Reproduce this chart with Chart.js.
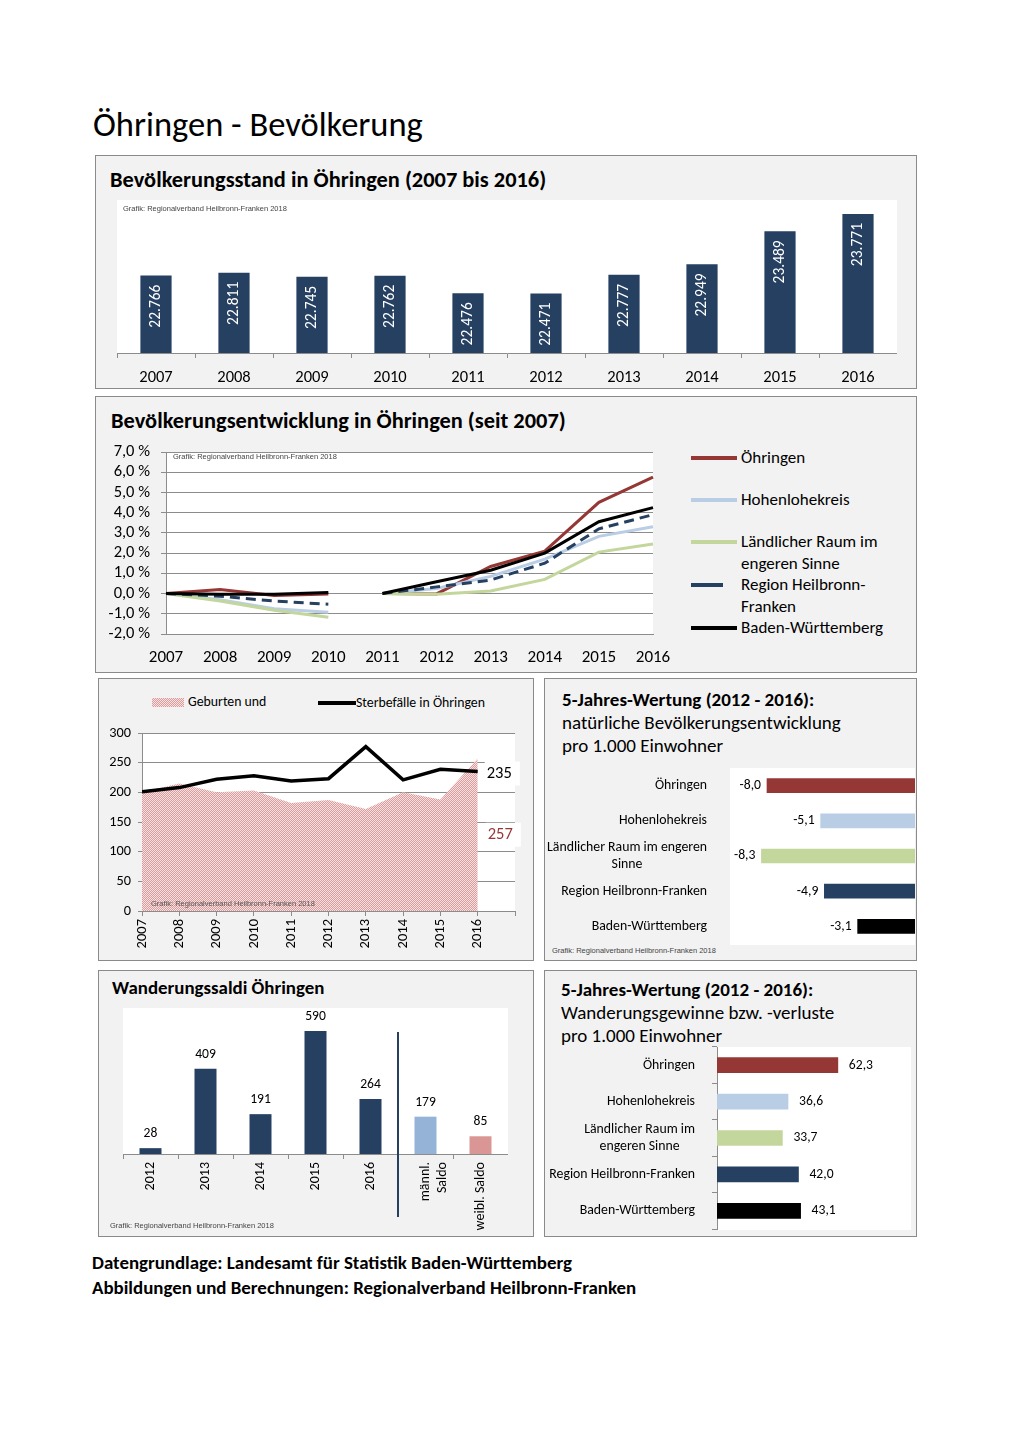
<!DOCTYPE html>
<html lang="de">
<head>
<meta charset="utf-8">
<title>Öhringen - Bevölkerung</title>
<script src="https://cdn.jsdelivr.net/npm/chart.js@4.4.1/dist/chart.umd.min.js"></script>
<style>
  body { margin: 0; background: #fff; font-family: Carlito, Lato, sans-serif; color: #000; }
  #page { position: relative; width: 1020px; height: 1443px; overflow: hidden; }
  .panel { position: absolute; background: #f2f2f2; border: 1px solid #8a8a8a; box-sizing: border-box; }
  .t { position: absolute; white-space: nowrap; }
  .b { font-weight: bold; }
  .note { position: absolute; white-space: nowrap; font-family: "Liberation Sans", Arial, sans-serif; font-size: 7.5px; color: #444; }
  canvas { position: absolute; }
  .sw { position: absolute; height: 3px; }
</style>
</head>
<body>
<div id="page">
  <div class="t" style="left:93px;top:104px;font-size:34.5px;line-height:40px;">Öhringen - Bevölkerung</div>

  <!-- Bevölkerungsstand -->
  <div class="panel" style="left:95px;top:155px;width:822px;height:234px;"></div>
  <div class="t b" style="left:110px;top:167px;font-size:22.4px;line-height:26px;">Bevölkerungsstand in Öhringen (2007 bis 2016)</div>
  <canvas id="popChart" width="780" height="186" style="left:117px;top:200px;"></canvas>
  <div class="note" style="left:123px;top:204px;">Grafik: Regionalverband Heilbronn-Franken 2018</div>

  <!-- Bevölkerungsentwicklung -->
  <div class="panel" style="left:95px;top:396px;width:822px;height:277px;"></div>
  <div class="t b" style="left:111px;top:408px;font-size:22.4px;line-height:26px;">Bevölkerungsentwicklung in Öhringen (seit 2007)</div>
  <canvas id="devChart" width="573" height="232" style="left:100px;top:440px;"></canvas>
  <div class="note" style="left:173px;top:452px;">Grafik: Regionalverband Heilbronn-Franken 2018</div>
  <div id="devLegend"></div>

  <!-- Geburten und Sterbefälle -->
  <div class="panel" style="left:98px;top:678px;width:436px;height:283px;"></div>
  <div class="sw" style="left:152px;top:698px;width:32px;height:9px;background:repeating-conic-gradient(#dc9c9c 0 25%, #f6e2e2 0 50%) 0 0/2px 2px;"></div>
  <div class="t" style="left:188px;top:693px;font-size:13.8px;line-height:17px;">Geburten und</div>
  <div class="sw" style="left:318px;top:701px;width:38px;height:4px;background:#000;"></div>
  <div class="t" style="left:356px;top:694px;font-size:13.8px;line-height:17px;">Sterbefälle in Öhringen</div>
  <canvas id="natChart" width="430" height="232" style="left:100px;top:725px;"></canvas>
  <div class="note" style="left:151px;top:899px;color:#555;">Grafik: Regionalverband Heilbronn-Franken 2018</div>

  <!-- 5-Jahres-Wertung natürlich -->
  <div class="panel" style="left:544px;top:678px;width:373px;height:283px;"></div>
  <div class="t" style="left:562px;top:688px;font-size:19px;line-height:23px;"><b>5-Jahres-Wertung (2012 - 2016):</b><br>natürliche Bevölkerungsentwicklung<br>pro 1.000 Einwohner</div>
  <canvas id="naturalChart" width="369" height="180" style="left:546px;top:766px;"></canvas>
  <div class="note" style="left:552px;top:946px;">Grafik: Regionalverband Heilbronn-Franken 2018</div>

  <!-- Wanderungssaldi -->
  <div class="panel" style="left:98px;top:970px;width:436px;height:267px;"></div>
  <div class="t b" style="left:112px;top:976px;font-size:18.9px;line-height:23px;">Wanderungssaldi Öhringen</div>
  <canvas id="migChart" width="385" height="225" style="left:123px;top:1008px;"></canvas>
  <div class="note" style="left:110px;top:1221px;">Grafik: Regionalverband Heilbronn-Franken 2018</div>

  <!-- 5-Jahres-Wertung Wanderung -->
  <div class="panel" style="left:544px;top:970px;width:373px;height:267px;"></div>
  <div class="t" style="left:561px;top:978px;font-size:19px;line-height:23px;"><b>5-Jahres-Wertung (2012 - 2016):</b><br>Wanderungsgewinne bzw. -verluste<br>pro 1.000 Einwohner</div>
  <canvas id="migRateChart" width="367" height="186" style="left:546px;top:1045px;"></canvas>

  <div class="t b" style="left:92px;top:1250px;font-size:18.9px;line-height:25px;">Datengrundlage: Landesamt für Statistik Baden-Württemberg<br>Abbildungen und Berechnungen: Regionalverband Heilbronn-Franken</div>
</div>

<script>
const FONT = "Carlito, Lato, sans-serif";
const NAVY = "#254061";
const DARK_RED = "#953735";
const LIGHT_BLUE = "#b9cde5";
const LIGHT_GREEN = "#c3d69b";
const GRID = "#8c8c8c";

// Bevölkerungsstand
const popYears = ["2007", "2008", "2009", "2010", "2011", "2012", "2013", "2014", "2015", "2016"];
const popValues = [22766, 22811, 22745, 22762, 22476, 22471, 22777, 22949, 23489, 23771];

// Bevölkerungsentwicklung in % (2007-2010 auf 2007, 2011-2016 auf 2011 bezogen)
const devYears = ["2007", "2008", "2009", "2010", "2011", "2012", "2013", "2014", "2015", "2016"];
const devOehringen = [0, 0.2, -0.09, -0.02, 0, -0.02, 1.34, 2.1, 4.51, 5.76];
const devHohenlohe = [0, -0.3, -0.75, -0.92, 0, 0.25, 0.85, 1.7, 2.83, 3.3];
const devLaendlich = [0, -0.37, -0.83, -1.17, 0, -0.03, 0.13, 0.7, 2.05, 2.45];
const devRegion = [0, -0.13, -0.37, -0.53, 0, 0.33, 0.67, 1.5, 3.2, 3.9];
const devBW = [0, -0.03, -0.03, 0.05, 0, 0.58, 1.15, 2.0, 3.55, 4.25];
const devTicks = [-2, -1, 0, 1, 2, 3, 4, 5, 6, 7];

// Geburten und Sterbefälle
const natYears = [2007, 2008, 2009, 2010, 2011, 2012, 2013, 2014, 2015, 2016];
const births = [200, 215, 200, 203, 182, 187, 172, 200, 188, 257];
const deaths = [201, 208, 222, 228, 219, 223, 277, 221, 239, 235];

// 5-Jahres-Wertung pro 1.000 Einwohner
const naturalAreas = ["Öhringen", "Hohenlohekreis", ["Ländlicher Raum im engeren", "Sinne"], "Region Heilbronn-Franken", "Baden-Württemberg"];
const naturalPer1000 = [-8.0, -5.1, -8.3, -4.9, -3.1];
const migrationAreas = ["Öhringen", "Hohenlohekreis", ["Ländlicher Raum im", "engeren Sinne"], "Region Heilbronn-Franken", "Baden-Württemberg"];
const migrationPer1000 = [62.3, 36.6, 33.7, 42.0, 43.1];
const areaColors = [DARK_RED, LIGHT_BLUE, LIGHT_GREEN, NAVY, "#000000"];

// Wanderungssaldi
const migLabels = ["2012", "2013", "2014", "2015", "2016", ["männl.", "Saldo"], "weibl. Saldo"];
const migSaldo = [28, 409, 191, 590, 264, 179, 85];
const migColors = [NAVY, NAVY, NAVY, NAVY, NAVY, "#95b3d7", "#d99694"];

Chart.defaults.font.family = FONT;
Chart.defaults.color = "#000";
Chart.defaults.animation = false;
Chart.defaults.plugins.legend.display = false;
Chart.defaults.plugins.tooltip.enabled = false;

function fmtThousand(v) {
  return String(v).replace(/\B(?=(\d{3})+(?!\d))/g, ".");
}

function fmtComma(v, d) {
  return v.toFixed(d).replace(".", ",");
}

// fixed axis size, no extra padding from the tick labels
function fixSize(w, h) {
  return (s) => {
    if (w !== null) s.width = w;
    if (h !== null) s.height = h;
    s.paddingTop = 0;
    s.paddingBottom = 0;
    s.paddingLeft = 0;
    s.paddingRight = 0;
  };
}

const whiteArea = {
  id: "whiteArea",
  beforeDraw(chart) {
    const a = chart.chartArea;
    chart.ctx.save();
    chart.ctx.fillStyle = "#fff";
    chart.ctx.fillRect(a.left, a.top, a.width, a.height + 1);
    chart.ctx.restore();
  },
};

// category labels like Excel: block right aligned, lines centred on each other
const centeredLabels = {
  id: "centeredLabels",
  afterDraw(chart, args, opts) {
    const ys = chart.scales.y;
    const ctx = chart.ctx;
    ctx.save();
    ctx.font = opts.size + "px " + FONT;
    ctx.fillStyle = "#000";
    ctx.textAlign = "center";
    ctx.textBaseline = "middle";
    chart.data.labels.forEach((label, i) => {
      const lines = [].concat(label);
      const w = Math.max(...lines.map((l) => ctx.measureText(l).width));
      const cx = opts.right - w / 2;
      const y0 = ys.getPixelForTick(i) - ((lines.length - 1) * opts.lineHeight) / 2;
      lines.forEach((l, k) => ctx.fillText(l, cx, y0 + k * opts.lineHeight));
    });
    ctx.restore();
  },
};

function valueLabels(id, draw) {
  return {
    id: id,
    afterDatasetsDraw(chart) {
      const ctx = chart.ctx;
      const values = chart.data.datasets[0].data;
      ctx.save();
      chart.getDatasetMeta(0).data.forEach((bar, i) => draw(ctx, bar, values[i], i));
      ctx.restore();
    },
  };
}

function makeHatch() {
  const c = document.createElement("canvas");
  c.width = 4;
  c.height = 4;
  const g = c.getContext("2d");
  g.fillStyle = "#f6e2e2";
  g.fillRect(0, 0, 4, 4);
  g.fillStyle = "#dc9c9c";
  for (let y = 0; y < 4; y++) {
    for (let x = 0; x < 4; x++) {
      if ((x + y) % 2 === 0) g.fillRect(x, y, 1, 1);
    }
  }
  return g.createPattern(c, "repeat");
} //makeHatch

function buildLegend() {
  const items = [
    { text: "Öhringen", color: DARK_RED, top: 458, w: 46 },
    { text: "Hohenlohekreis", color: LIGHT_BLUE, top: 500, w: 46 },
    { text: "Ländlicher Raum im<br>engeren Sinne", color: LIGHT_GREEN, top: 542, w: 46 },
    { text: "Region Heilbronn-<br>Franken", color: NAVY, top: 585, w: 32 },
    { text: "Baden-Württemberg", color: "#000", top: 628, w: 46 },
  ];
  let html = "";
  items.forEach((it) => {
    html += `<div class="sw" style="left:691px;top:${it.top - 2}px;width:${it.w}px;height:3.5px;background:${it.color};"></div>`;
    html += `<div class="t" style="left:741px;top:${it.top - 11}px;font-size:17px;line-height:21.5px;">${it.text}</div>`;
  });
  document.getElementById("devLegend").innerHTML = html;
} //buildLegend

function loadPopChart() {
  new Chart(document.getElementById("popChart"), {
    type: "bar",
    data: {
      labels: popYears,
      datasets: [{ data: popValues, backgroundColor: NAVY, barPercentage: 0.4, categoryPercentage: 1 }],
    },
    options: {
      responsive: false,
      layout: { padding: 0 },
      scales: {
        x: {
          grid: { drawOnChartArea: false, tickLength: 5, color: GRID },
          border: { color: GRID },
          ticks: { font: { size: 16.5 }, padding: 10 },
          afterFit: fixSize(null, 33),
        },
        y: { display: false, min: 21500, max: 24000 },
      },
    },
    plugins: [
      whiteArea,
      valueLabels("popLabels", (ctx, bar, v) => {
        ctx.translate(bar.x, bar.y + 9);
        ctx.rotate(-Math.PI / 2);
        ctx.fillStyle = "#fff";
        ctx.font = "15.5px " + FONT;
        ctx.textAlign = "right";
        ctx.textBaseline = "middle";
        ctx.fillText(fmtThousand(v), 0, 0);
        ctx.setTransform(1, 0, 0, 1, 0, 0);
      }),
    ],
  });
} //loadPopChart

function devLine(data, color, order, dash) {
  return {
    data: data,
    borderColor: color,
    borderWidth: 3,
    borderDash: dash || [],
    pointRadius: 0,
    order: order,
    segment: {
      borderColor: (c) => (c.p0DataIndex === 3 ? "rgba(0,0,0,0)" : undefined),
    },
  };
}

function loadDevChart() {
  new Chart(document.getElementById("devChart"), {
    type: "line",
    data: {
      labels: devYears,
      datasets: [
        devLine(devOehringen, DARK_RED, 5),
        devLine(devHohenlohe, LIGHT_BLUE, 4),
        devLine(devLaendlich, LIGHT_GREEN, 3),
        devLine(devRegion, NAVY, 2, [10, 6]),
        devLine(devBW, "#000", 1),
      ],
    },
    options: {
      responsive: false,
      layout: { padding: { top: 12, right: 20, left: 0, bottom: 0 } },
      scales: {
        x: {
          grid: { display: false },
          border: { color: GRID },
          ticks: { font: { size: 17 }, padding: 6, maxRotation: 0 },
          afterFit: fixSize(null, 38),
        },
        y: {
          min: devTicks[0],
          max: devTicks[devTicks.length - 1],
          grid: { color: GRID, tickLength: 5 },
          border: { color: GRID },
          afterBuildTicks: (s) => { s.ticks = devTicks.map((v) => ({ value: v })); },
          ticks: { font: { size: 16.5 }, padding: 11, autoSkip: false, callback: (v) => fmtComma(v, 1) + " %" },
          afterFit: fixSize(66, null),
        },
      },
    },
    plugins: [whiteArea],
  });
} //loadDevChart

function loadNatChart() {
  const natLabels = {
    id: "natLabels",
    afterDatasetsDraw(chart) {
      const ctx = chart.ctx;
      const ys = chart.scales.y;
      const last = natYears.length - 1;
      const dPt = chart.getDatasetMeta(0).data[last];
      const bPt = chart.getDatasetMeta(1).data[last];
      ctx.save();
      ctx.font = "16.5px " + FONT;
      ctx.textAlign = "left";
      ctx.textBaseline = "middle";
      const items = [
        { text: String(deaths[last]), x: dPt.x + 9, y: dPt.y + 2, color: "#000" },
        { text: String(births[last]), x: bPt.x + 10, y: ys.getPixelForValue(births[last] / 2), color: DARK_RED },
      ];
      items.forEach((it) => {
        const w = ctx.measureText(it.text).width;
        ctx.fillStyle = "#fff";
        ctx.fillRect(it.x - 2, it.y - 12, w + 10, 24);
        ctx.fillStyle = it.color;
        ctx.fillText(it.text, it.x, it.y);
      });
      ctx.restore();
    },
  };
  new Chart(document.getElementById("natChart"), {
    type: "line",
    data: {
      datasets: [
        {
          label: "Sterbefälle",
          data: natYears.map((y, i) => ({ x: y, y: deaths[i] })),
          borderColor: "#000",
          borderWidth: 3.5,
          pointRadius: 0,
          order: 1,
        },
        {
          label: "Geburten",
          data: natYears.map((y, i) => ({ x: y, y: births[i] })),
          borderWidth: 0,
          backgroundColor: makeHatch(),
          fill: "origin",
          pointRadius: 0,
          order: 2,
        },
      ],
    },
    options: {
      responsive: false,
      layout: { padding: { top: 8, right: 15, left: 0, bottom: 0 } },
      scales: {
        x: {
          type: "linear",
          min: 2007,
          max: 2017,
          grid: { drawOnChartArea: false, tickLength: 5, color: GRID },
          border: { color: GRID },
          ticks: {
            stepSize: 1,
            font: { size: 14.5 },
            padding: 3,
            minRotation: 90,
            maxRotation: 90,
            callback: (v) => (v === 2017 ? "" : String(v)),
          },
          afterFit: fixSize(null, 46),
        },
        y: {
          min: 0,
          max: 300,
          grid: { color: GRID, tickLength: 4 },
          border: { color: GRID },
          ticks: { stepSize: 50, font: { size: 14.3 }, padding: 7 },
          afterFit: fixSize(42, null),
        },
      },
    },
    plugins: [whiteArea, natLabels],
  });
} //loadNatChart

function loadNaturalChart() {
  new Chart(document.getElementById("naturalChart"), {
    type: "bar",
    data: {
      labels: naturalAreas,
      datasets: [{ data: naturalPer1000, backgroundColor: areaColors, barThickness: 14 }],
    },
    options: {
      responsive: false,
      indexAxis: "y",
      layout: { padding: { top: 2, bottom: 2, left: 0, right: 0 } },
      plugins: { centeredLabels: { size: 13.8, right: 161, lineHeight: 16.5 } },
      scales: {
        x: { display: false, min: -10, max: 0 },
        y: {
          grid: { display: false },
          border: { display: false },
          ticks: { display: false },
          afterFit: fixSize(184, null),
        },
      },
    },
    plugins: [
      whiteArea,
      centeredLabels,
      valueLabels("naturalLabels", (ctx, bar, v) => {
        ctx.fillStyle = "#000";
        ctx.font = "13.7px " + FONT;
        ctx.textAlign = "right";
        ctx.textBaseline = "middle";
        ctx.fillText(fmtComma(v, 1), bar.x - 6, bar.y);
      }),
    ],
  });
} //loadNaturalChart

function loadMigChart() {
  const separator = {
    id: "separator",
    afterDraw(chart) {
      const xs = chart.scales.x;
      const a = chart.chartArea;
      const x = (xs.getPixelForValue(4) + xs.getPixelForValue(5)) / 2;
      const ctx = chart.ctx;
      ctx.save();
      ctx.strokeStyle = NAVY;
      ctx.lineWidth = 2;
      ctx.beginPath();
      ctx.moveTo(x, a.top + 24);
      ctx.lineTo(x, a.bottom + 63);
      ctx.stroke();
      ctx.restore();
    },
  };
  new Chart(document.getElementById("migChart"), {
    type: "bar",
    data: {
      labels: migLabels,
      datasets: [{ data: migSaldo, backgroundColor: migColors, barPercentage: 0.4, categoryPercentage: 1 }],
    },
    options: {
      responsive: false,
      layout: { padding: 0 },
      scales: {
        x: {
          grid: { drawOnChartArea: false, tickLength: 5, color: GRID },
          border: { color: GRID },
          ticks: { font: { size: 14 }, padding: 3, minRotation: 90, maxRotation: 90, autoSkip: false },
          afterFit: fixSize(null, 79),
        },
        y: { display: false, min: 0, max: 700 },
      },
    },
    plugins: [
      whiteArea,
      separator,
      valueLabels("migLabels", (ctx, bar, v) => {
        ctx.fillStyle = "#000";
        ctx.font = "13.6px " + FONT;
        ctx.textAlign = "center";
        ctx.textBaseline = "alphabetic";
        ctx.fillText(String(v), bar.x, bar.y - 11);
      }),
    ],
  });
} //loadMigChart

function loadMigRateChart() {
  new Chart(document.getElementById("migRateChart"), {
    type: "bar",
    data: {
      labels: migrationAreas,
      datasets: [{ data: migrationPer1000, backgroundColor: areaColors, barThickness: 15 }],
    },
    options: {
      responsive: false,
      indexAxis: "y",
      layout: { padding: { top: 2, bottom: 2, left: 0, right: 2 } },
      plugins: { centeredLabels: { size: 13.8, right: 149, lineHeight: 16.5 } },
      scales: {
        x: { display: false, min: 0, max: 100 },
        y: {
          grid: { drawOnChartArea: false, tickLength: 5, color: GRID },
          border: { color: GRID },
          ticks: { display: false },
          afterFit: fixSize(171, null),
        },
      },
    },
    plugins: [
      whiteArea,
      centeredLabels,
      valueLabels("migRateLabels", (ctx, bar, v) => {
        ctx.fillStyle = "#000";
        ctx.font = "13.6px " + FONT;
        ctx.textAlign = "left";
        ctx.textBaseline = "middle";
        ctx.fillText(fmtComma(v, 1), bar.x + 11, bar.y);
      }),
    ],
  });
} //loadMigRateChart

buildLegend();
loadPopChart();
loadDevChart();
loadNatChart();
loadNaturalChart();
loadMigChart();
loadMigRateChart();
</script>
</body>
</html>
